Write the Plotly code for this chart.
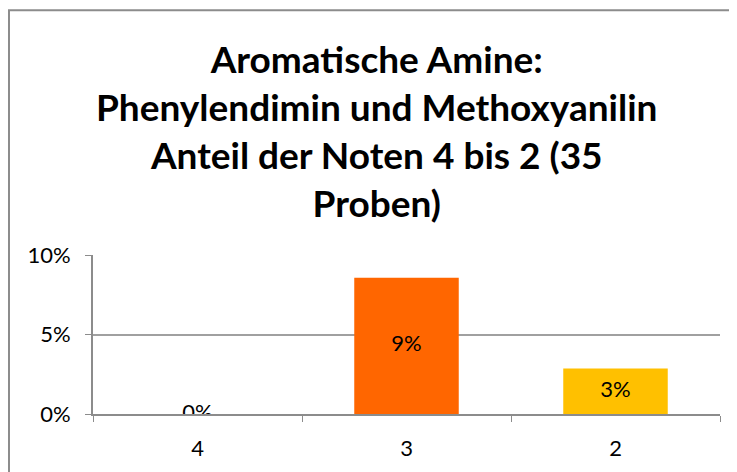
import plotly.graph_objects as go

categories = ["4", "3", "2"]
values = [0.0, 3/35, 1/35]
labels = ["0%", "9%", "3%"]
colors = ["#FF6600", "#FF6600", "#FFC000"]
title_lines = ["Aromatische Amine:", "Phenylendimin und Methoxyanilin", "Anteil der Noten 4 bis 2 (35", "Proben)"]
yticks = [0, 0.05, 0.10]
ytick_text = ["0%", "5%", "10%"]

FONT = "Lato"

fig = go.Figure()
fig.add_trace(go.Bar(x=categories, y=values, marker=dict(color=colors, line=dict(width=0)),
                     width=0.5, hoverinfo="skip"))
fig.add_trace(go.Scatter(x=categories, y=[v / 2 for v in values], mode="text", text=labels,
                         textposition="middle center",
                         textfont=dict(family=FONT, size=22, color="black"), hoverinfo="skip"))

fig.update_layout(
    width=729, height=464,
    margin=dict(l=85, r=17, t=247, b=58),
    paper_bgcolor="white", plot_bgcolor="white",
    showlegend=False,
    font=dict(family=FONT, size=22, color="black"),
    annotations=[dict(text="<b>" + "<br>".join(title_lines) + "</b>", xref="paper", yref="paper",
                      x=0.452, y=1.0, yshift=125, xanchor="center", yanchor="middle",
                      showarrow=False, font=dict(family=FONT, size=37, color="black"))],
    shapes=[dict(type="rect", xref="paper", yref="paper", x0=-0.134, x1=1.2, y0=-0.6, y1=2.54,
                 line=dict(color="#8c8c8c", width=2), fillcolor="rgba(0,0,0,0)", layer="below")],
)

fig.update_xaxes(type="category", showline=True, linecolor="#8c8c8c", linewidth=2,
                 ticks="outside", tickson="boundaries", ticklen=6, tickcolor="#8c8c8c",
                 ticklabelstandoff=14,
                 showgrid=False, tickfont=dict(family=FONT, size=22), fixedrange=True)
fig.update_yaxes(range=[0, 0.10], tickvals=yticks, ticktext=ytick_text, showline=True,
                 linecolor="#8c8c8c", linewidth=2, ticks="outside", ticklen=6, tickcolor="#8c8c8c",
                 ticklabelstandoff=10,
                 showgrid=True, gridcolor="#a0a0a0", gridwidth=1.5, zeroline=False,
                 tickfont=dict(family=FONT, size=22), fixedrange=True)

fig.write_html("out.html")
